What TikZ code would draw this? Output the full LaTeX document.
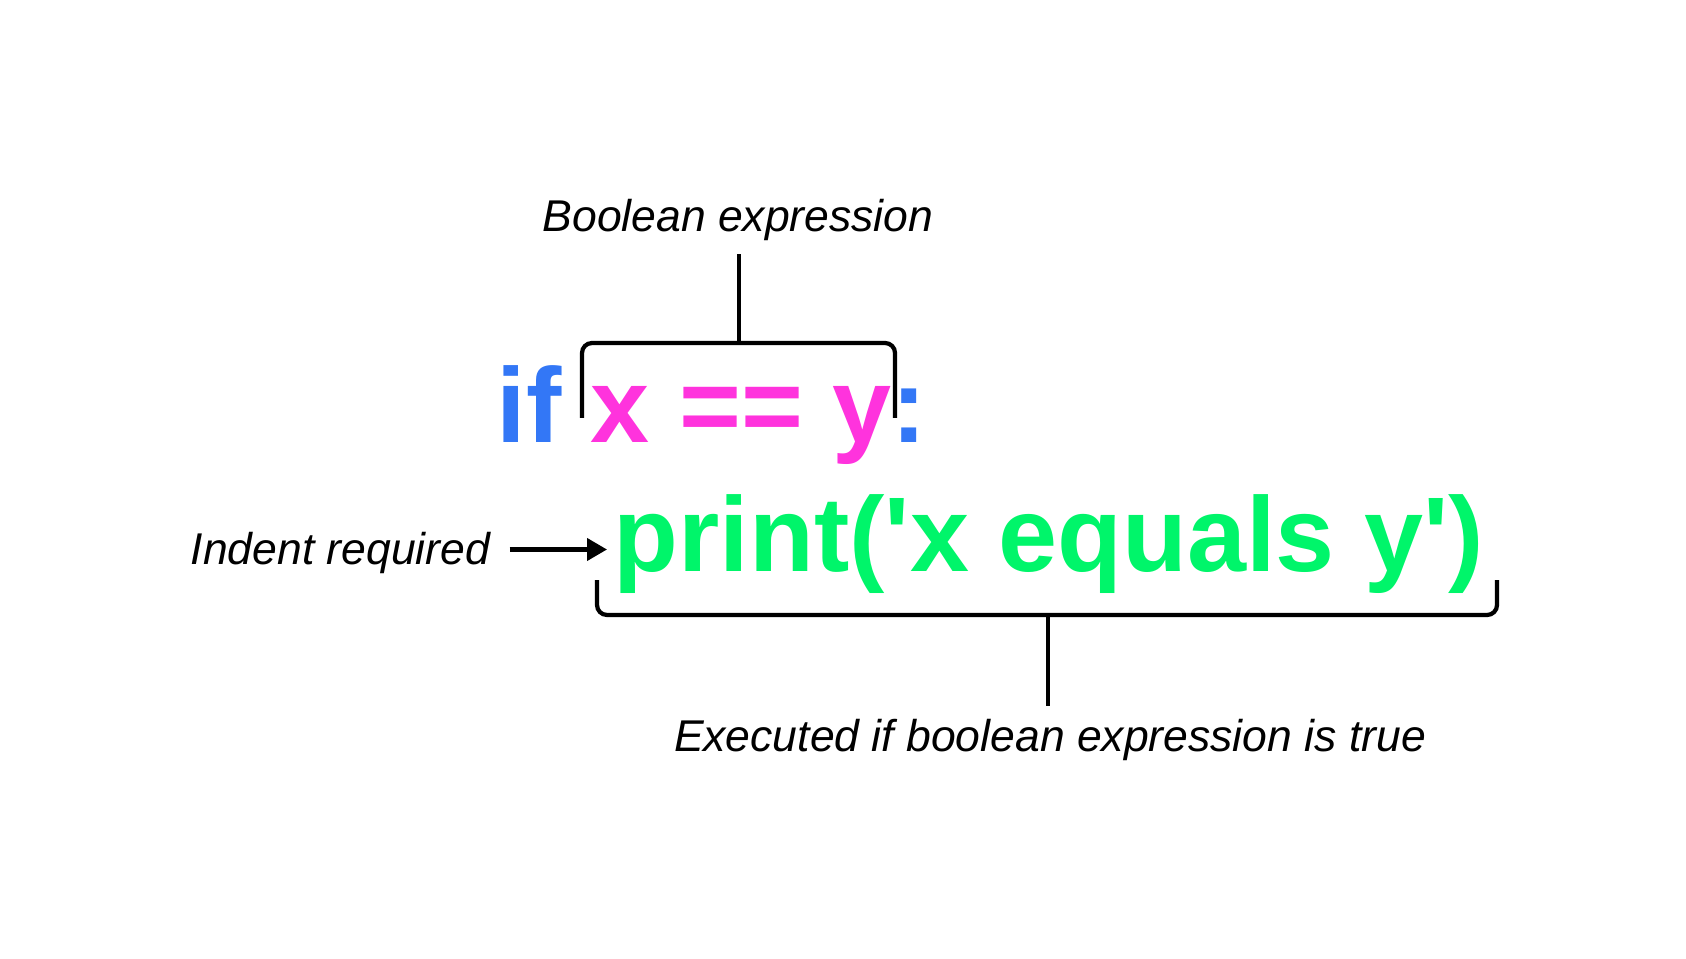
\documentclass[tikz,border=0pt]{standalone}
\usepackage{fontspec}
\setmainfont{Liberation Sans}
\usepackage{tikz}
\usetikzlibrary{arrows.meta, positioning, calc}

\definecolor{kwblue}{RGB}{51,119,246}
\definecolor{exprpink}{RGB}{255,51,221}
\definecolor{codegreen}{RGB}{0,245,106}

\begin{document}
\begin{tikzpicture}[
            codetext/.style={inner sep=0, anchor=base west, font=\fontsize{30.2}{36}\selectfont\bfseries},
            note/.style={inner sep=0, font=\fontsize{12.66}{15}\selectfont\itshape},
            brace/.style={line width=1.2pt, rounded corners=0.1cm},
            arrow/.style={-{Triangle[length=0.2cm, width=0.22cm]}, line width=1.2pt}
        ]
            \useasboundingbox (0,0) rectangle (16.86,9.58);

            % the code
            \node[codetext, text=kwblue] (ifkw) at (4.96, 5.15) {if};
            \node[codetext, text=exprpink] (cond) at (5.90, 5.15) {x == y};
            \node[codetext, text=kwblue] (colon) at (8.91, 5.15) {:};
            \node[codetext, text=codegreen] (body) at (6.13, 3.87) {print(\textquotesingle x equals y\textquotesingle)};

            % labels
            \node[note, anchor=base] (boolLbl) at (7.38, 7.26) {Boolean expression};
            \node[note, anchor=base west] (indentLbl) at (1.90, 3.93) {Indent required};
            \node[note, anchor=base] (execLbl) at (10.50, 2.07) {Executed if boolean expression is true};

            % brackets
            \draw[brace] (5.82, 5.40) -- (5.82, 6.15) -- (8.95, 6.15) -- (8.95, 5.40);
            \coordinate (condTop) at (7.39, 6.15);
            \draw[brace] (condTop) -- ([yshift=-0.12cm]boolLbl.south -| condTop);

            \draw[brace] (5.97, 3.78) -- (5.97, 3.43) -- (14.97, 3.43) -- (14.97, 3.78);
            \coordinate (bodyBot) at (10.48, 3.43);
            \draw[brace] (bodyBot) -- ([yshift=0.12cm]execLbl.north -| bodyBot);

            \draw[arrow, shorten <=0.19cm, shorten >=0.06cm] ([yshift=0.04cm]indentLbl.east) -- ([yshift=0.04cm]indentLbl.east -| body.west);
        \end{tikzpicture}
\end{document}
